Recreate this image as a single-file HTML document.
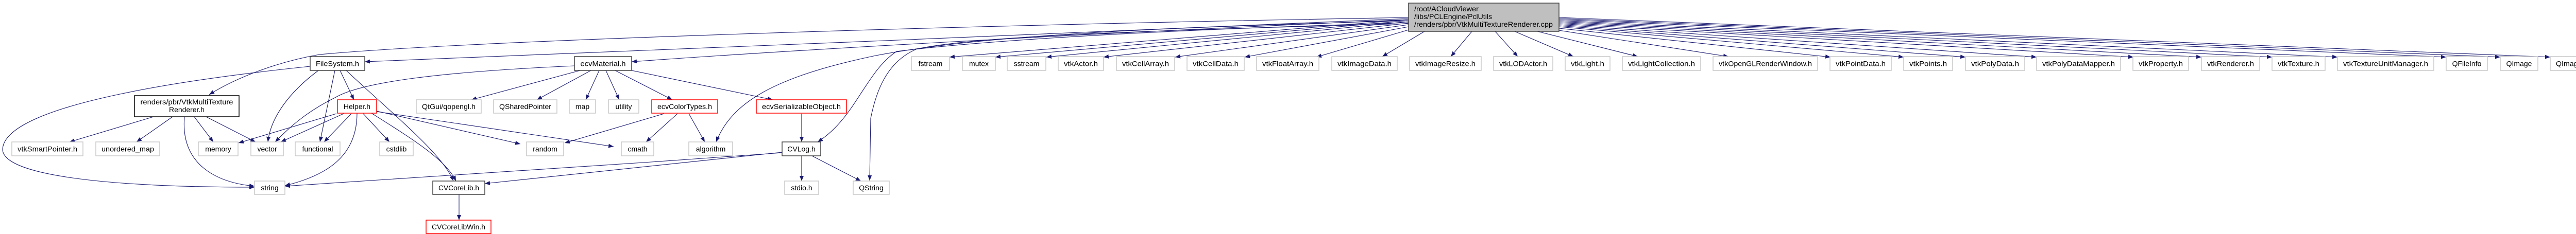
<!DOCTYPE html>
<html><head><meta charset="utf-8"><style>
html,body{margin:0;padding:0;background:#fff;}
svg{display:block;}
text{font-family:"Liberation Sans",sans-serif;font-size:14px;fill:#000;}
</style></head><body>
<svg width="5074" height="455" viewBox="0 0 5074 455" xmlns="http://www.w3.org/2000/svg">
<defs>
<marker id="a" markerUnits="userSpaceOnUse" markerWidth="11" markerHeight="8" refX="10" refY="4" orient="auto">
<path d="M0,0 L10,4 L0,8 z" fill="#191970"/></marker>
</defs>
<g fill="none" stroke="#191970" stroke-width="1.1" marker-end="url(#a)">
<!-- root to row1 left -->
<path d="M2734,38 L1843,111"/>
<path d="M2734,40 L1932,111"/>
<path d="M2734,42 L2031,111"/>
<path d="M2734,45 L2142,111"/>
<path d="M2734,48 L2281,111"/>
<path d="M2734,52 L2416,111"/>
<path d="M2734,58 L2555,111"/>
<path d="M2765,61 L2683,110"/>
<path d="M2857,61 L2816,110"/>
<path d="M2902,61 L2946,110"/>
<path d="M2940,61 L3054,110"/>
<path d="M2984,61 L3179,110"/>
<path d="M3026,59 L3355,110"/>
<path d="M3026,55 L3553,111"/>
<path d="M3026,52 L3695,111"/>
<path d="M3026,50 L3815,111"/>
<path d="M3026,48 L3953,111"/>
<path d="M3026,46 L4141,111"/>
<path d="M3026,44 L4273,111"/>
<path d="M3026,42 L4410,111"/>
<path d="M3026,40 L4537,111"/>
<path d="M3026,38 L4748,111"/>
<path d="M3026,36 L4853,111"/>
<path d="M3026,34 L4950,111"/>
<!-- root to lower -->
<path d="M2734,36 C2200,60 1200,100 708,120"/>
<path d="M2734,34 C1800,50 900,80 620,106 C540,120 460,150 406,184"/>
<path d="M2734,38 C2000,70 1500,100 1226,120"/>
<path d="M2734,40 C2200,55 1900,70 1700,108 C1500,150 1420,200 1390,276"/>
<path d="M2734,44 C2200,60 1900,80 1740,100 C1680,140 1660,230 1587,276"/>
<path d="M2734,46 C2200,60 1900,70 1780,95 C1720,120 1700,180 1690,230 L1688,351"/>
<!-- FileSystem -->
<path d="M602,129 C400,150 10,200 5,290 C5,340 200,364 494,364"/>
<path d="M618,137 C560,180 525,230 520,276"/>
<path d="M650,137 L621,276"/>
<path d="M660,137 L687,194"/>
<path d="M672,137 C760,220 860,300 880,352"/>
<!-- Helper -->
<path d="M721,220 C800,270 865,310 885,352"/>
<path d="M653,221 L463,278"/>
<path d="M667,221 L545,276"/>
<path d="M682,221 L629,276"/>
<path d="M705,221 L756,276"/>
<path d="M693,220 C693,300 640,340 553,361"/>
<path d="M731,216 L1010,280"/>
<path d="M731,217 L1191,285"/>
<!-- renders -->
<path d="M298,227 L135,276"/>
<path d="M335,227 L265,276"/>
<path d="M377,227 L414,276"/>
<path d="M400,227 L496,276"/>
<path d="M358,227 C350,320 420,355 494,362"/>
<!-- ecvMaterial -->
<path d="M1126,137 L915,194"/>
<path d="M1147,137 L1042,194"/>
<path d="M1163,137 L1137,194"/>
<path d="M1176,137 L1202,194"/>
<path d="M1194,137 L1305,194"/>
<path d="M1226,137 L1500,194"/>
<path d="M1115,128 C850,140 700,160 650,190 C590,220 560,250 534,276"/>
<!-- ecvColorTypes -->
<path d="M1289,221 L1096,278"/>
<path d="M1315,221 L1254,276"/>
<path d="M1337,221 L1368,276"/>
<!-- serializable -->
<path d="M1556,221 L1556,276"/>
<!-- CVLog -->
<path d="M1518,296 C1300,320 1100,340 941,357"/>
<path d="M1518,297 C1200,320 900,340 553,362"/>
<path d="M1556,303 L1556,352"/>
<path d="M1576,303 L1671,352"/>
<path d="M891,378 L891,428"/>
</g>
<g stroke-width="1.5">
<rect x="2734" y="6" width="292" height="55" fill="#bfbfbf" stroke="#404040"/>
<rect x="602" y="110" width="106" height="27" fill="#fff" stroke="#404040"/>
<rect x="261" y="186" width="203" height="41" fill="#fff" stroke="#000"/>
<rect x="1115" y="110" width="111" height="27" fill="#fff" stroke="#404040"/>
<rect x="1518" y="276" width="75" height="27" fill="#fff" stroke="#404040"/>
<rect x="840" y="352" width="101" height="26" fill="#fff" stroke="#404040"/>
<rect x="655" y="194" width="76" height="26" fill="#fff" stroke="#ff0000"/>
<rect x="1265" y="194" width="128" height="26" fill="#fff" stroke="#ff0000"/>
<rect x="1468" y="194" width="175" height="26" fill="#fff" stroke="#ff0000"/>
<rect x="827" y="428" width="126" height="26" fill="#fff" stroke="#ff0000"/>
</g>
<g fill="#fff" stroke="#c8c8c8" stroke-width="1.5">
<rect x="1769" y="110" width="74" height="27"/>
<rect x="1868" y="110" width="64" height="27"/>
<rect x="1955" y="110" width="75" height="27"/>
<rect x="2054" y="110" width="88" height="27"/>
<rect x="2167" y="110" width="113" height="27"/>
<rect x="2304" y="110" width="111" height="27"/>
<rect x="2439" y="110" width="121" height="27"/>
<rect x="2585" y="110" width="127" height="27"/>
<rect x="2736" y="110" width="139" height="27"/>
<rect x="2899" y="110" width="115" height="27"/>
<rect x="3038" y="110" width="87" height="27"/>
<rect x="3149" y="110" width="152" height="27"/>
<rect x="3325" y="110" width="203" height="27"/>
<rect x="3552" y="110" width="119" height="27"/>
<rect x="3695" y="110" width="95" height="27"/>
<rect x="3815" y="110" width="115" height="27"/>
<rect x="3953" y="110" width="163" height="27"/>
<rect x="4140" y="110" width="108" height="27"/>
<rect x="4273" y="110" width="113" height="27"/>
<rect x="4410" y="110" width="103" height="27"/>
<rect x="4537" y="110" width="187" height="27"/>
<rect x="4748" y="110" width="80" height="27"/>
<rect x="4853" y="110" width="73" height="27"/>
<rect x="4950" y="110" width="119" height="27"/>
<rect x="808" y="194" width="126" height="26"/>
<rect x="958" y="194" width="123" height="26"/>
<rect x="1105" y="194" width="51" height="26"/>
<rect x="1181" y="194" width="59" height="26"/>
<rect x="23" y="276" width="138" height="27"/>
<rect x="186" y="276" width="124" height="27"/>
<rect x="385" y="276" width="77" height="27"/>
<rect x="487" y="276" width="63" height="27"/>
<rect x="573" y="276" width="87" height="27"/>
<rect x="737" y="276" width="65" height="27"/>
<rect x="1022" y="276" width="72" height="27"/>
<rect x="1206" y="276" width="63" height="27"/>
<rect x="1337" y="276" width="85" height="27"/>
<rect x="494" y="352" width="59" height="26"/>
<rect x="1523" y="352" width="66" height="26"/>
<rect x="1656" y="352" width="70" height="26"/>
</g>
<g>
<text x="2745" y="22" textLength="125" lengthAdjust="spacingAndGlyphs">/root/ACloudViewer</text>
<text x="2745" y="37" textLength="151" lengthAdjust="spacingAndGlyphs">/libs/PCLEngine/PclUtils</text>
<text x="2745" y="52" textLength="269" lengthAdjust="spacingAndGlyphs">/renders/pbr/VtkMultiTextureRenderer.cpp</text>
<text x="362.5" y="203" text-anchor="middle" textLength="180" lengthAdjust="spacingAndGlyphs">renders/pbr/VtkMultiTexture</text>
<text x="362.5" y="218" text-anchor="middle" textLength="69" lengthAdjust="spacingAndGlyphs">Renderer.h</text>
</g>
<g text-anchor="middle">
<text x="655" y="128.5" textLength="84" lengthAdjust="spacingAndGlyphs">FileSystem.h</text>
<text x="1170.5" y="128.5" textLength="88" lengthAdjust="spacingAndGlyphs">ecvMaterial.h</text>
<text x="1806" y="128.5">fstream</text>
<text x="1900" y="128.5">mutex</text>
<text x="1992.5" y="128.5">sstream</text>
<text x="2098" y="128.5" textLength="66" lengthAdjust="spacingAndGlyphs">vtkActor.h</text>
<text x="2223.5" y="128.5" textLength="91" lengthAdjust="spacingAndGlyphs">vtkCellArray.h</text>
<text x="2359.5" y="128.5" textLength="89" lengthAdjust="spacingAndGlyphs">vtkCellData.h</text>
<text x="2499.5" y="128.5" textLength="99" lengthAdjust="spacingAndGlyphs">vtkFloatArray.h</text>
<text x="2648.5" y="128.5" textLength="105" lengthAdjust="spacingAndGlyphs">vtkImageData.h</text>
<text x="2805.5" y="128.5" textLength="117" lengthAdjust="spacingAndGlyphs">vtkImageResize.h</text>
<text x="2956.5" y="128.5" textLength="93" lengthAdjust="spacingAndGlyphs">vtkLODActor.h</text>
<text x="3081.5" y="128.5" textLength="65" lengthAdjust="spacingAndGlyphs">vtkLight.h</text>
<text x="3225" y="128.5" textLength="130" lengthAdjust="spacingAndGlyphs">vtkLightCollection.h</text>
<text x="3426.5" y="128.5" textLength="181" lengthAdjust="spacingAndGlyphs">vtkOpenGLRenderWindow.h</text>
<text x="3611.5" y="128.5" textLength="97" lengthAdjust="spacingAndGlyphs">vtkPointData.h</text>
<text x="3742.5" y="128.5" textLength="73" lengthAdjust="spacingAndGlyphs">vtkPoints.h</text>
<text x="3872.5" y="128.5" textLength="93" lengthAdjust="spacingAndGlyphs">vtkPolyData.h</text>
<text x="4034.5" y="128.5" textLength="141" lengthAdjust="spacingAndGlyphs">vtkPolyDataMapper.h</text>
<text x="4194" y="128.5" textLength="86" lengthAdjust="spacingAndGlyphs">vtkProperty.h</text>
<text x="4329.5" y="128.5" textLength="91" lengthAdjust="spacingAndGlyphs">vtkRenderer.h</text>
<text x="4461.5" y="128.5" textLength="81" lengthAdjust="spacingAndGlyphs">vtkTexture.h</text>
<text x="4630.5" y="128.5" textLength="165" lengthAdjust="spacingAndGlyphs">vtkTextureUnitManager.h</text>
<text x="4788" y="128.5">QFileInfo</text>
<text x="4889.5" y="128.5">QImage</text>
<text x="5009.5" y="128.5" textLength="97" lengthAdjust="spacingAndGlyphs">QImageReader</text>
<text x="693" y="212">Helper.h</text>
<text x="871" y="212" textLength="104" lengthAdjust="spacingAndGlyphs">QtGui/qopengl.h</text>
<text x="1019.5" y="212" textLength="101" lengthAdjust="spacingAndGlyphs">QSharedPointer</text>
<text x="1130.5" y="212">map</text>
<text x="1210.5" y="212">utility</text>
<text x="1329" y="212" textLength="106" lengthAdjust="spacingAndGlyphs">ecvColorTypes.h</text>
<text x="1555.5" y="212" textLength="153" lengthAdjust="spacingAndGlyphs">ecvSerializableObject.h</text>
<text x="92" y="294.5" textLength="116" lengthAdjust="spacingAndGlyphs">vtkSmartPointer.h</text>
<text x="248" y="294.5" textLength="102" lengthAdjust="spacingAndGlyphs">unordered_map</text>
<text x="423.5" y="294.5">memory</text>
<text x="518.5" y="294.5">vector</text>
<text x="616.5" y="294.5">functional</text>
<text x="769.5" y="294.5">cstdlib</text>
<text x="1058" y="294.5">random</text>
<text x="1237.5" y="294.5">cmath</text>
<text x="1379.5" y="294.5">algorithm</text>
<text x="1555.5" y="294.5">CVLog.h</text>
<text x="523.5" y="370">string</text>
<text x="890.5" y="370" textLength="79" lengthAdjust="spacingAndGlyphs">CVCoreLib.h</text>
<text x="1556" y="370">stdio.h</text>
<text x="1691" y="370">QString</text>
<text x="890" y="446" textLength="104" lengthAdjust="spacingAndGlyphs">CVCoreLibWin.h</text>
</g>
</svg>
</body></html>
